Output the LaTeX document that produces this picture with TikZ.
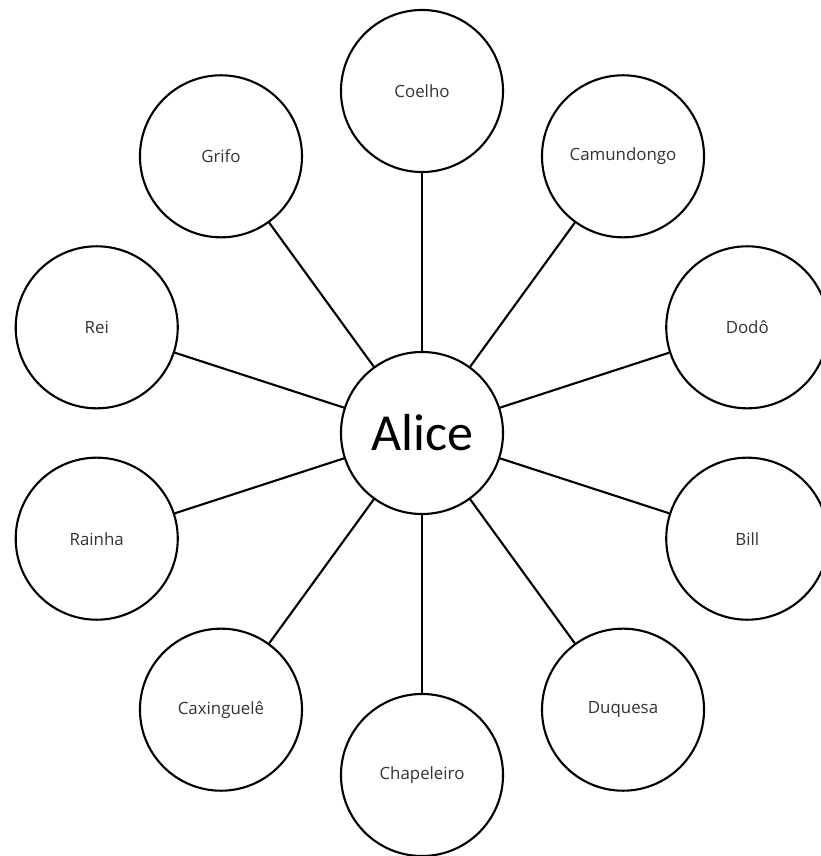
\documentclass[tikz,border=0pt]{standalone}
\usepackage{fontspec}
\setmainfont{Open Sans}
\newfontfamily\calibri{Carlito}
\usetikzlibrary{positioning}

\begin{document}
\begin{tikzpicture}[x=0.025cm, y=0.025cm,
    personagem/.style={circle, draw, line width=1.5pt, minimum size=4.05cm, inner sep=0pt,
        font=\fontsize{12}{14}\selectfont, text=black!80},
    centro/.style={personagem, font=\calibri\fontsize{37}{40}\selectfont, text=black},
    ligacao/.style={line width=1.5pt}]
    \useasboundingbox (-422, -423) rectangle (399, 433);

    \node[centro] (alice) at (0, 0) {Alice};

    \foreach \ang/\nome/\rotulo in {90/coelho/Coelho, 54/camundongo/Camundongo, 18/dodo/Dodô,
        -18/bill/Bill, -54/duquesa/Duquesa, -90/chapeleiro/Chapeleiro,
        -126/caxinguele/Caxinguelê, -162/rainha/Rainha, 162/rei/Rei, 126/grifo/Grifo} {
        \node[personagem] (\nome) at (\ang:342) {\rotulo};
        \draw[ligacao] (alice) -- (\nome);
    }
\end{tikzpicture}
\end{document}
